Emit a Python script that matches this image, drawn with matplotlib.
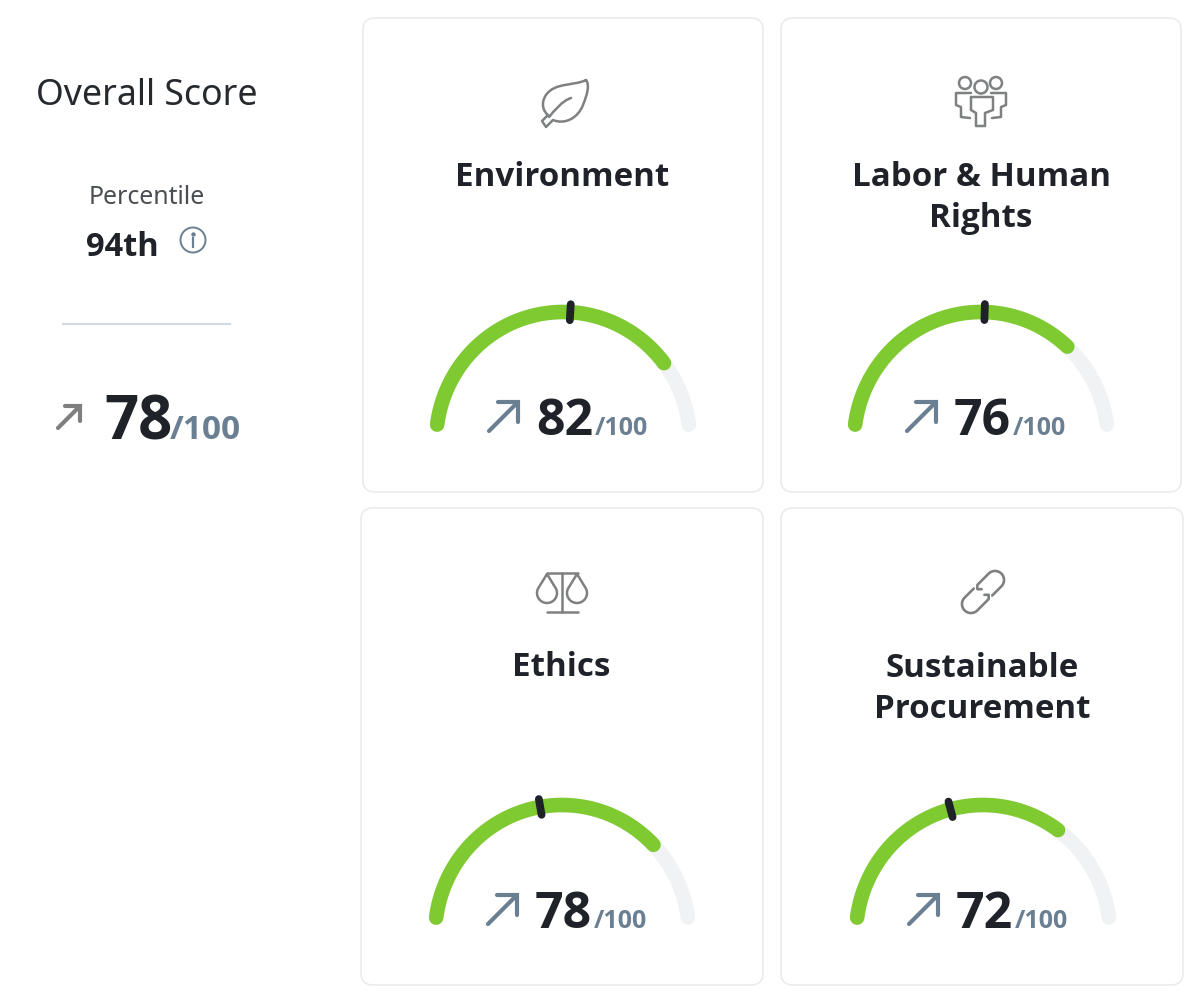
import numpy as np
import matplotlib
matplotlib.use('Agg')
import matplotlib.pyplot as plt
from matplotlib.patches import FancyBboxPatch, PathPatch, Circle
from matplotlib.path import Path

plt.rcParams['font.family'] = ['Noto Sans', 'DejaVu Sans']

# chart values
card_names = ['Environment', 'Labor & Human\nRights', 'Ethics', 'Sustainable\nProcurement']
card_scores = [82, 76, 78, 72]
card_markers = [52, 51, 44, 41]
score_max = 100
overall_title = 'Overall Score'
percentile_label = 'Percentile'
percentile_value = '94th'
overall_score = 78

# layout, in pixels of the 1200x1000 picture
card_boxes = [(363, 18, 763, 492), (781, 18, 1181, 492), (361, 508, 763, 985), (781, 508, 1183, 985)]
gauge_cx = [563, 981, 562, 983]
gauge_cy = [442, 442, 935, 935]
gauge_rx = 127
gauge_ry = 130
start_angle = 172.3
sweep = 164.6
title_y = [177, 177, 668, 668]

GREEN = '#7FC931'
TRACK = '#F0F2F4'
DARK = '#1F2329'
SLATE = '#6B7F93'
ICON = '#7E8082'
EDGE = '#E9EBED'
BOLD = ['Open Sans', 'Noto Sans', 'DejaVu Sans']

fig = plt.figure(figsize=(12, 10), dpi=100)
ax = fig.add_axes([0, 0, 1, 1])
ax.set_xlim(0, 1200)
ax.set_ylim(1000, 0)
ax.axis('off')


def arc_points(cx, cy, v0, v1):
    a = np.radians(start_angle - np.linspace(v0, v1, 100) / score_max * sweep)
    return cx + gauge_rx * np.cos(a), cy - gauge_ry * np.sin(a)


def stroke(verts, codes=None, color=ICON, lw=1.8):
    ax.add_patch(PathPatch(Path(verts, codes), fill=False, edgecolor=color, lw=lw,
                           capstyle='round', joinstyle='round'))


def arrow(x, y, size, color, lw):
    ax.plot([x, x + size], [y, y - size], color=color, lw=lw, solid_capstyle='round')
    ax.plot([x + size * 0.3, x + size, x + size], [y - size, y - size, y - size * 0.3],
            color=color, lw=lw, solid_capstyle='round', solid_joinstyle='miter')


def leaf_icon():
    M, L, C = Path.MOVETO, Path.LINETO, Path.CURVE4
    stroke([(586, 80), (575, 86), (555, 82), (546, 95), (540, 104), (544, 112), (548, 115),
            (542, 121), (546, 127), (553, 120), (565, 125), (578, 118), (583, 105),
            (587, 95), (590, 85), (586, 80)],
           [M, C, C, C, C, C, C, L, L, L, C, C, C, C, C, C])
    stroke([(549, 117), (555, 110), (562, 101), (571, 98)], [M, C, C, C])


def people_icon():
    for x, y, r in [(965, 83, 6), (981, 87, 6.5), (996, 83, 6)]:
        ax.add_patch(Circle((x, y), r, fill=False, edgecolor=ICON, lw=1.8))
    stroke([(971, 97), (993, 97), (993, 110), (985, 113), (985, 126), (976, 126), (976, 113), (971, 110), (971, 97)])
    stroke([(971, 93), (956, 93), (956, 105), (961, 107), (961, 117), (970, 118)])
    stroke([(991, 93), (1006, 93), (1006, 105), (1001, 107), (1001, 117), (992, 118)])


def scales_icon():
    stroke([(547, 573), (578, 573)])
    stroke([(562, 573), (562, 612)])
    stroke([(547, 612), (578, 612)])
    for x in [547, 577]:
        t = np.radians(np.linspace(-25, 205, 40))
        px = x + 10 * np.cos(t)
        py = 593 + 10 * np.sin(t)
        stroke([(x, 574)] + list(zip(px, py)) + [(x, 574)])


def link_icon():
    # u runs up-right along the chain, v down-right across it
    c = np.array([983.0, 592.0])
    d = np.array([1, -1]) / np.sqrt(2)
    n = np.array([1, 1]) / np.sqrt(2)
    for s in [1, -1]:
        t = np.radians(np.linspace(-90, 90, 30))
        uv = [(s * 1, -s * 3), (-s * 2, -s * 6), (s * 1, -s * 9)]
        uv += [(s * (17 + 9 * np.cos(a)), s * 9 * np.sin(a)) for a in t]
        uv += [(s * 4, s * 9)]
        stroke([tuple(c + u * d + v * n) for u, v in uv], lw=1.9)


# left column
ax.text(147, 96, overall_title, ha='center', va='center', fontsize=25.7, color='#26292D')
ax.text(147, 198, percentile_label, ha='center', va='center', fontsize=17.9, color='#4A4E53')
ax.text(122, 247, percentile_value, ha='center', va='center', fontsize=23.5, fontweight='bold', family=BOLD, color=DARK)
ax.add_patch(Circle((193, 240), 12.5, fill=False, edgecolor=SLATE, lw=1.4))
ax.plot([193, 193], [238, 247], color=SLATE, lw=1.6)
ax.plot([193], [233.5], marker='o', ms=2.2, color=SLATE)
ax.plot([63, 230], [324, 324], color='#D5DAE0', lw=1.5)
arrow(58, 428, 22, '#7F7F7F', 3)
ax.text(104, 439, str(overall_score), ha='left', va='baseline', fontsize=43, fontweight='bold', family=BOLD, color=DARK)
ax.text(170, 439, '/%d' % score_max, ha='left', va='baseline', fontsize=24, fontweight='bold', family=BOLD, color=SLATE)

# cards
for i in range(len(card_names)):
    x0, y0, x1, y1 = card_boxes[i]
    ax.add_patch(FancyBboxPatch((x0 + 12, y0 + 12), x1 - x0 - 24, y1 - y0 - 24,
                                boxstyle='round,pad=12,rounding_size=12',
                                fc='white', ec=EDGE, lw=1.2))
    cx, cy = gauge_cx[i], gauge_cy[i]
    tx, ty = arc_points(cx, cy, 0, score_max)
    ax.plot(tx, ty, color=TRACK, lw=10.5, solid_capstyle='round')
    gx, gy = arc_points(cx, cy, 0, card_scores[i])
    ax.plot(gx, gy, color=GREEN, lw=10.5, solid_capstyle='round')

    # dark tick across the arc at the marker value
    a = np.radians(start_angle - card_markers[i] / score_max * sweep)
    mx, my = cx + gauge_rx * np.cos(a), cy - gauge_ry * np.sin(a)
    ax.plot([mx - 8 * np.cos(a), mx + 8 * np.cos(a)], [my + 8 * np.sin(a), my - 8 * np.sin(a)],
            color=DARK, lw=5.6, solid_capstyle='round')

    ax.text((x0 + x1) / 2 + (-1 if i % 2 == 0 else 0), title_y[i] + (21 if '\n' in card_names[i] else 0),
            card_names[i], ha='center', va='center', fontsize=23.9, fontweight='bold', family=BOLD,
            color=DARK, linespacing=1.32)

    base = cy - 7
    arrow(cx - 74, cy - 11, 29, SLATE, 3)
    ax.text(cx - 27, base, str(card_scores[i]), ha='left', va='baseline', fontsize=36,
            fontweight='bold', family=BOLD, color=DARK)
    ax.text(cx + 32, base, '/%d' % score_max, ha='left', va='baseline', fontsize=18,
            fontweight='bold', family=BOLD, color=SLATE)

leaf_icon()
people_icon()
scales_icon()
link_icon()

fig.savefig('out.png', dpi=100, facecolor='white')
